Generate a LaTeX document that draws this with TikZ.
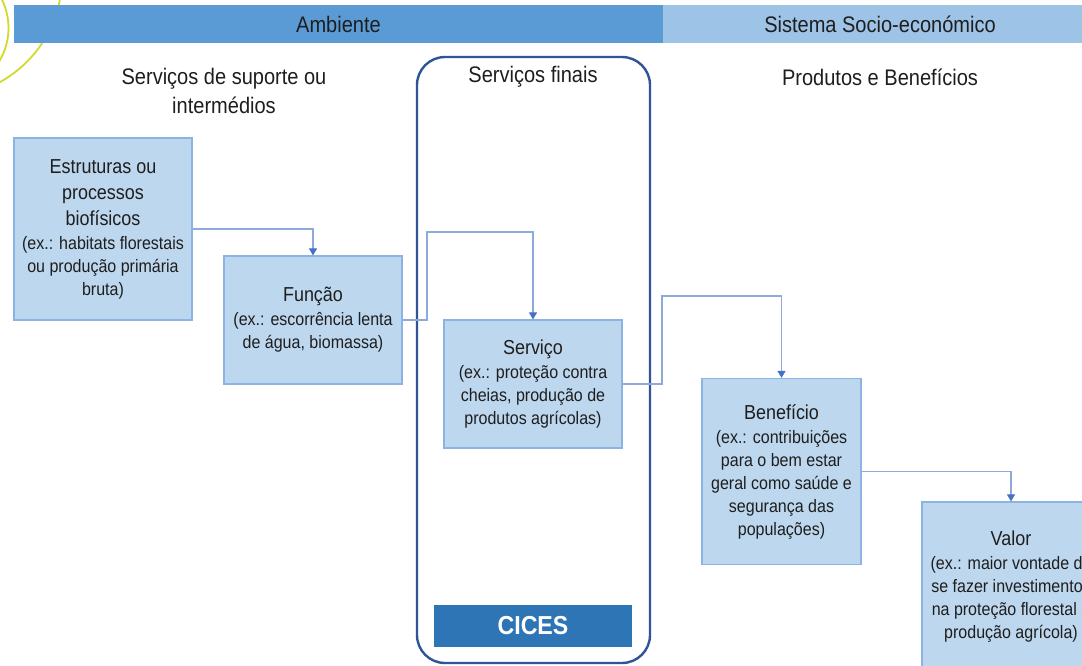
\documentclass[tikz,border=0pt]{standalone}
\usepackage{fontspec}
\setmainfont{Liberation Sans}[FakeStretch=0.89]
\usetikzlibrary{arrows.meta}
\definecolor{barA}{HTML}{5B9BD5}
\definecolor{barB}{HTML}{9DC3E6}
\definecolor{boxfill}{HTML}{BDD7EE}
\definecolor{boxline}{HTML}{8DB3E2}
\definecolor{framec}{HTML}{2F5597}
\definecolor{cicesc}{HTML}{2E75B6}
\definecolor{connc}{HTML}{8EA9DB}
\definecolor{tipc}{HTML}{4472C4}
\definecolor{txt}{HTML}{1E1E1E}
\definecolor{yel}{HTML}{D2DA2C}
\tikzset{
  bar/.style={inner sep=0pt, minimum height=38pt, text=txt, font=\fontsize{22.5}{26}\selectfont},
  heading/.style={align=center, text=txt, font=\fontsize{22.5}{29}\selectfont, inner sep=0pt},
  box/.style={draw=boxline, fill=boxfill, line width=1.2pt, inner sep=0pt, align=center,
    text=txt, font=\fontsize{18}{23}\selectfont},
  frame/.style={draw=framec, line width=2.4pt, rounded corners=28pt, inner sep=0pt},
  conn/.style={draw=connc, line width=1.1pt, -{Triangle[width=8pt,length=7pt,fill=tipc,color=tipc]}},
  arcline/.style={draw=yel, line width=1.8pt},
}
\newcommand{\ttl}[1]{{\fontsize{20.2}{26}\selectfont #1}}
\begin{document}
\begin{tikzpicture}[x=1pt,y=-1pt]
\useasboundingbox (0,0) rectangle (1082,665);
\clip (0,0) rectangle (1082,665);
\fill[white] (0,0) rectangle (1082,665);
% decorative yellow arcs
\draw[arcline] (-58,-23) circle[radius=120];
\draw[arcline] (-56,28) circle[radius=64.5];
% top bars
\node[bar, fill=barA, minimum width=649pt] (amb) at (338.5,24) {Ambiente};
\node[bar, fill=barB, minimum width=434pt] (soc) at (880,24) {Sistema Socio-económico};
% frame
\node[frame, minimum width=233pt, minimum height=606pt] (frm) at (533.5,360) {};
% headings
\node[heading] (h1) at (224,91) {Serviços de suporte ou\\intermédios};
\node[heading] (h2) at (533,77) {Serviços finais};
\node[heading] (h3) at (880,77) {Produtos e Benefícios};
% boxes
\node[box, minimum width=178pt, minimum height=182pt] (est) at (103,229)
  {\ttl{Estruturas ou}\\[3pt]\ttl{processos}\\[3pt]\ttl{biofísicos}\\[1pt](ex.: habitats florestais\\ou produção primária\\bruta)};
\node[box, minimum width=178pt, minimum height=128pt] (fun) at (313,320)
  {\ttl{Função}\\[1pt](ex.: escorrência lenta\\de água, biomassa)};
\node[box, minimum width=178pt, minimum height=128pt] (ser) at (533,384)
  {\ttl{Serviço}\\[1pt](ex.: proteção contra\\cheias, produção de\\produtos agrícolas)};
\node[box, minimum width=159pt, minimum height=186pt] (ben) at (781.5,471.5)
  {\ttl{Benefício}\\[1pt](ex.: contribuições\\para o bem estar\\geral como saúde e\\segurança das\\populações)};
\node[box, minimum width=178pt, minimum height=170pt] (val) at (1011,587)
  {\ttl{Valor}\\[1pt](ex.: maior vontade de\\se fazer investimentos\\na proteção florestal e\\produção agrícola)};
% CICES
\node[fill=cicesc, minimum width=198pt, minimum height=42pt, inner sep=0pt, text=white,
  font=\fontsize{26}{30}\selectfont\bfseries] (cices) at (533,626) {CICES};
% connectors
\coordinate (c1) at (427,232);
\coordinate (c2) at (662,296);
\draw[conn] (est.east) -| (fun.north);
\draw[conn] (fun.east) -| (c1) -| (ser.north);
\draw[conn] (ser.east) -| (c2) -| (ben.north);
\draw[conn] (ben.east) -| (val.north);
\end{tikzpicture}
\end{document}
